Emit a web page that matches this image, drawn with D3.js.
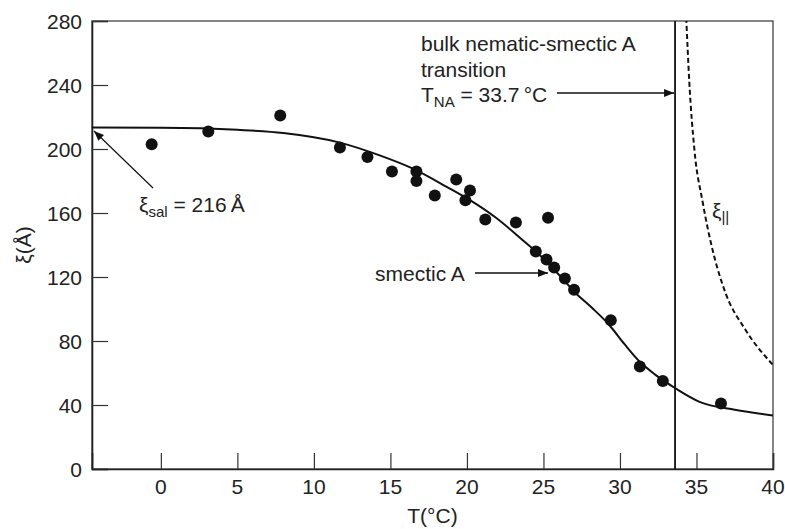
<!DOCTYPE html>
<html>
<head>
<meta charset="utf-8">
<script src="https://cdn.jsdelivr.net/npm/d3@7"></script>
<style>
  body { margin: 0; background: #fff; }
  text { font-family: "Liberation Sans", Arial, sans-serif; fill: #222; }
</style>
</head>
<body>
<script>
// measured points: temperature (°C) and correlation length (Å)
var tempData = [-0.6, 3.1, 7.8, 11.7, 13.5, 15.1, 16.7, 16.7, 17.9, 19.3, 19.9, 20.2, 21.2, 23.2, 25.3, 24.5, 25.2, 25.7, 26.4, 27.0, 29.4, 31.3, 32.8, 36.6];
var xiData   = [203, 211, 221, 201, 195, 186, 186, 180, 171, 181, 168, 174, 156, 154, 157, 136, 131, 126, 119, 112, 93, 64, 55, 41];

// solid fitted curve
var fitT  = [-4.5, 0, 5, 8, 11.7, 14.3, 16.4, 18.65, 20.2, 21.9, 23.65, 24.5, 26, 27.1, 28.2, 29.3, 30.3, 31.3, 32.3, 33.7, 35.2, 37.5, 40];
var fitXi = [213.4, 213.3, 212, 210, 204, 196, 188, 176.5, 168, 157, 143, 136, 121.5, 110, 100.5, 90, 78, 67, 59, 50, 42, 37, 33.5];

// dashed xi_parallel curve
var parT  = [34.33, 34.53, 34.86, 35.4, 36.05, 36.9, 38.2, 40];
var parXi = [282, 242, 200, 167, 137, 110, 87, 65];

var xTicks = [0, 5, 10, 15, 20, 25, 30, 35, 40];
var yTicks = [0, 40, 80, 120, 160, 200, 240, 280];
var tNA = 33.6;

var w = 785, h = 529;
var mLeft = 92, mRight = 773, mTop = 21, mBottom = 469;
var fs = "21px", fsSub = "15px";

drawChart();

function drawChart() {
  var svg = d3.select("body").append("svg").attr("width", w).attr("height", h);

  var x = d3.scaleLinear().domain([-4.5, 40]).range([mLeft, mRight]);
  var y = d3.scaleLinear().domain([0, 280]).range([mBottom, mTop]);

  var defs = svg.append("defs");
  defs.append("clipPath").attr("id", "clip")
    .append("rect").attr("x", mLeft).attr("y", mTop)
    .attr("width", mRight - mLeft).attr("height", mBottom - mTop);

  defs.append("marker")
    .attr("id", "arr").attr("viewBox", "0 0 10 10")
    .attr("refX", 10).attr("refY", 5)
    .attr("markerWidth", 11).attr("markerHeight", 10)
    .attr("markerUnits", "userSpaceOnUse")
    .attr("orient", "auto")
    .append("path").attr("d", "M0,1 L10,5 L0,9 Z").attr("fill", "#111");

  // frame
  svg.append("rect").attr("x", mLeft).attr("y", mTop)
    .attr("width", mRight - mLeft).attr("height", mBottom - mTop)
    .attr("fill", "none").attr("stroke", "#444").attr("stroke-width", 1.3);

  // axes with inward ticks
  var yAxis = svg.append("g").attr("transform", "translate(" + mLeft + ",0)")
    .call(d3.axisRight(y).tickValues(yTicks).tickSize(16).tickFormat(""));
  yAxis.select(".domain").attr("stroke", "#222").attr("stroke-width", 1.6);
  yAxis.selectAll(".tick line").attr("stroke", "#333").attr("stroke-width", 1.2);

  var xAxis = svg.append("g").attr("transform", "translate(0," + mBottom + ")")
    .call(d3.axisTop(x).tickValues(xTicks).tickSize(16).tickFormat(""));
  xAxis.select(".domain").attr("stroke", "#222").attr("stroke-width", 1.6);
  xAxis.selectAll(".tick line").attr("stroke", "#333").attr("stroke-width", 1.2);

  svg.selectAll(".ylab").data(yTicks).enter().append("text")
    .attr("x", mLeft - 10).attr("y", function(d) { return y(d) + 7.5; })
    .attr("text-anchor", "end").style("font-size", fs)
    .text(function(d) { return d; });

  svg.selectAll(".xlab").data(xTicks).enter().append("text")
    .attr("x", function(d) { return x(d); }).attr("y", mBottom + 25)
    .attr("text-anchor", "middle").style("font-size", fs)
    .text(function(d) { return d; });

  svg.append("text").attr("x", (mLeft + mRight) / 2).attr("y", 523)
    .attr("text-anchor", "middle").style("font-size", fs).text("T(°C)");

  svg.append("text")
    .attr("transform", "translate(31," + ((mTop + mBottom) / 2) + ") rotate(-90)")
    .attr("text-anchor", "middle").style("font-size", fs).text("ξ(Å)");

  var plot = svg.append("g").attr("clip-path", "url(#clip)");

  // transition line
  plot.append("line")
    .attr("x1", x(tNA)).attr("x2", x(tNA)).attr("y1", mTop).attr("y2", mBottom)
    .attr("stroke", "#111").attr("stroke-width", 1.8);

  var line = d3.line().x(function(d) { return x(d[0]); }).y(function(d) { return y(d[1]); });

  plot.append("path")
    .datum(d3.zip(fitT, fitXi))
    .attr("d", line.curve(d3.curveMonotoneX))
    .attr("fill", "none").attr("stroke", "#111").attr("stroke-width", 2);

  plot.append("path")
    .datum(d3.zip(parT, parXi))
    .attr("d", line.curve(d3.curveMonotoneX))
    .attr("fill", "none").attr("stroke", "#111").attr("stroke-width", 2)
    .attr("stroke-dasharray", "5,3");

  plot.selectAll(".dot").data(d3.zip(tempData, xiData)).enter().append("circle")
    .attr("cx", function(d) { return x(d[0]); })
    .attr("cy", function(d) { return y(d[1]); })
    .attr("r", 6).attr("fill", "#111");

  // annotations
  var note = svg.append("text").style("font-size", fs);
  note.append("tspan").attr("x", 421).attr("y", 51).text("bulk nematic-smectic A");
  note.append("tspan").attr("x", 421).attr("y", 77).text("transition");
  var t3 = svg.append("text").attr("x", 421).attr("y", 102).style("font-size", fs);
  t3.append("tspan").text("T");
  t3.append("tspan").attr("dy", 5).style("font-size", fsSub).text("NA");
  t3.append("tspan").attr("dy", -5).text(" = 33.7\u2009°C");

  svg.append("line").attr("x1", 557).attr("x2", x(tNA) - 1).attr("y1", 93).attr("y2", 93)
    .attr("stroke", "#111").attr("stroke-width", 1.5).attr("marker-end", "url(#arr)");

  svg.append("text").attr("x", 375).attr("y", 281).style("font-size", fs).text("smectic A");
  svg.append("line").attr("x1", 475).attr("x2", 548).attr("y1", 273).attr("y2", 273)
    .attr("stroke", "#111").attr("stroke-width", 1.5).attr("marker-end", "url(#arr)");

  var sal = svg.append("text").attr("x", 139).attr("y", 212).style("font-size", fs);
  sal.append("tspan").text("ξ");
  sal.append("tspan").attr("dy", 5).style("font-size", fsSub).text("sal");
  sal.append("tspan").attr("dy", -5).text(" = 216\u2009Å");
  svg.append("line").attr("x1", 153).attr("y1", 188).attr("x2", 94).attr("y2", 131)
    .attr("stroke", "#111").attr("stroke-width", 1.2).attr("marker-end", "url(#arr)");

  var par = svg.append("text").attr("x", 712).attr("y", 218).style("font-size", fs);
  par.append("tspan").text("ξ");
  par.append("tspan").attr("dy", 4).style("font-size", fsSub).text("||");
}
</script>
</body>
</html>
